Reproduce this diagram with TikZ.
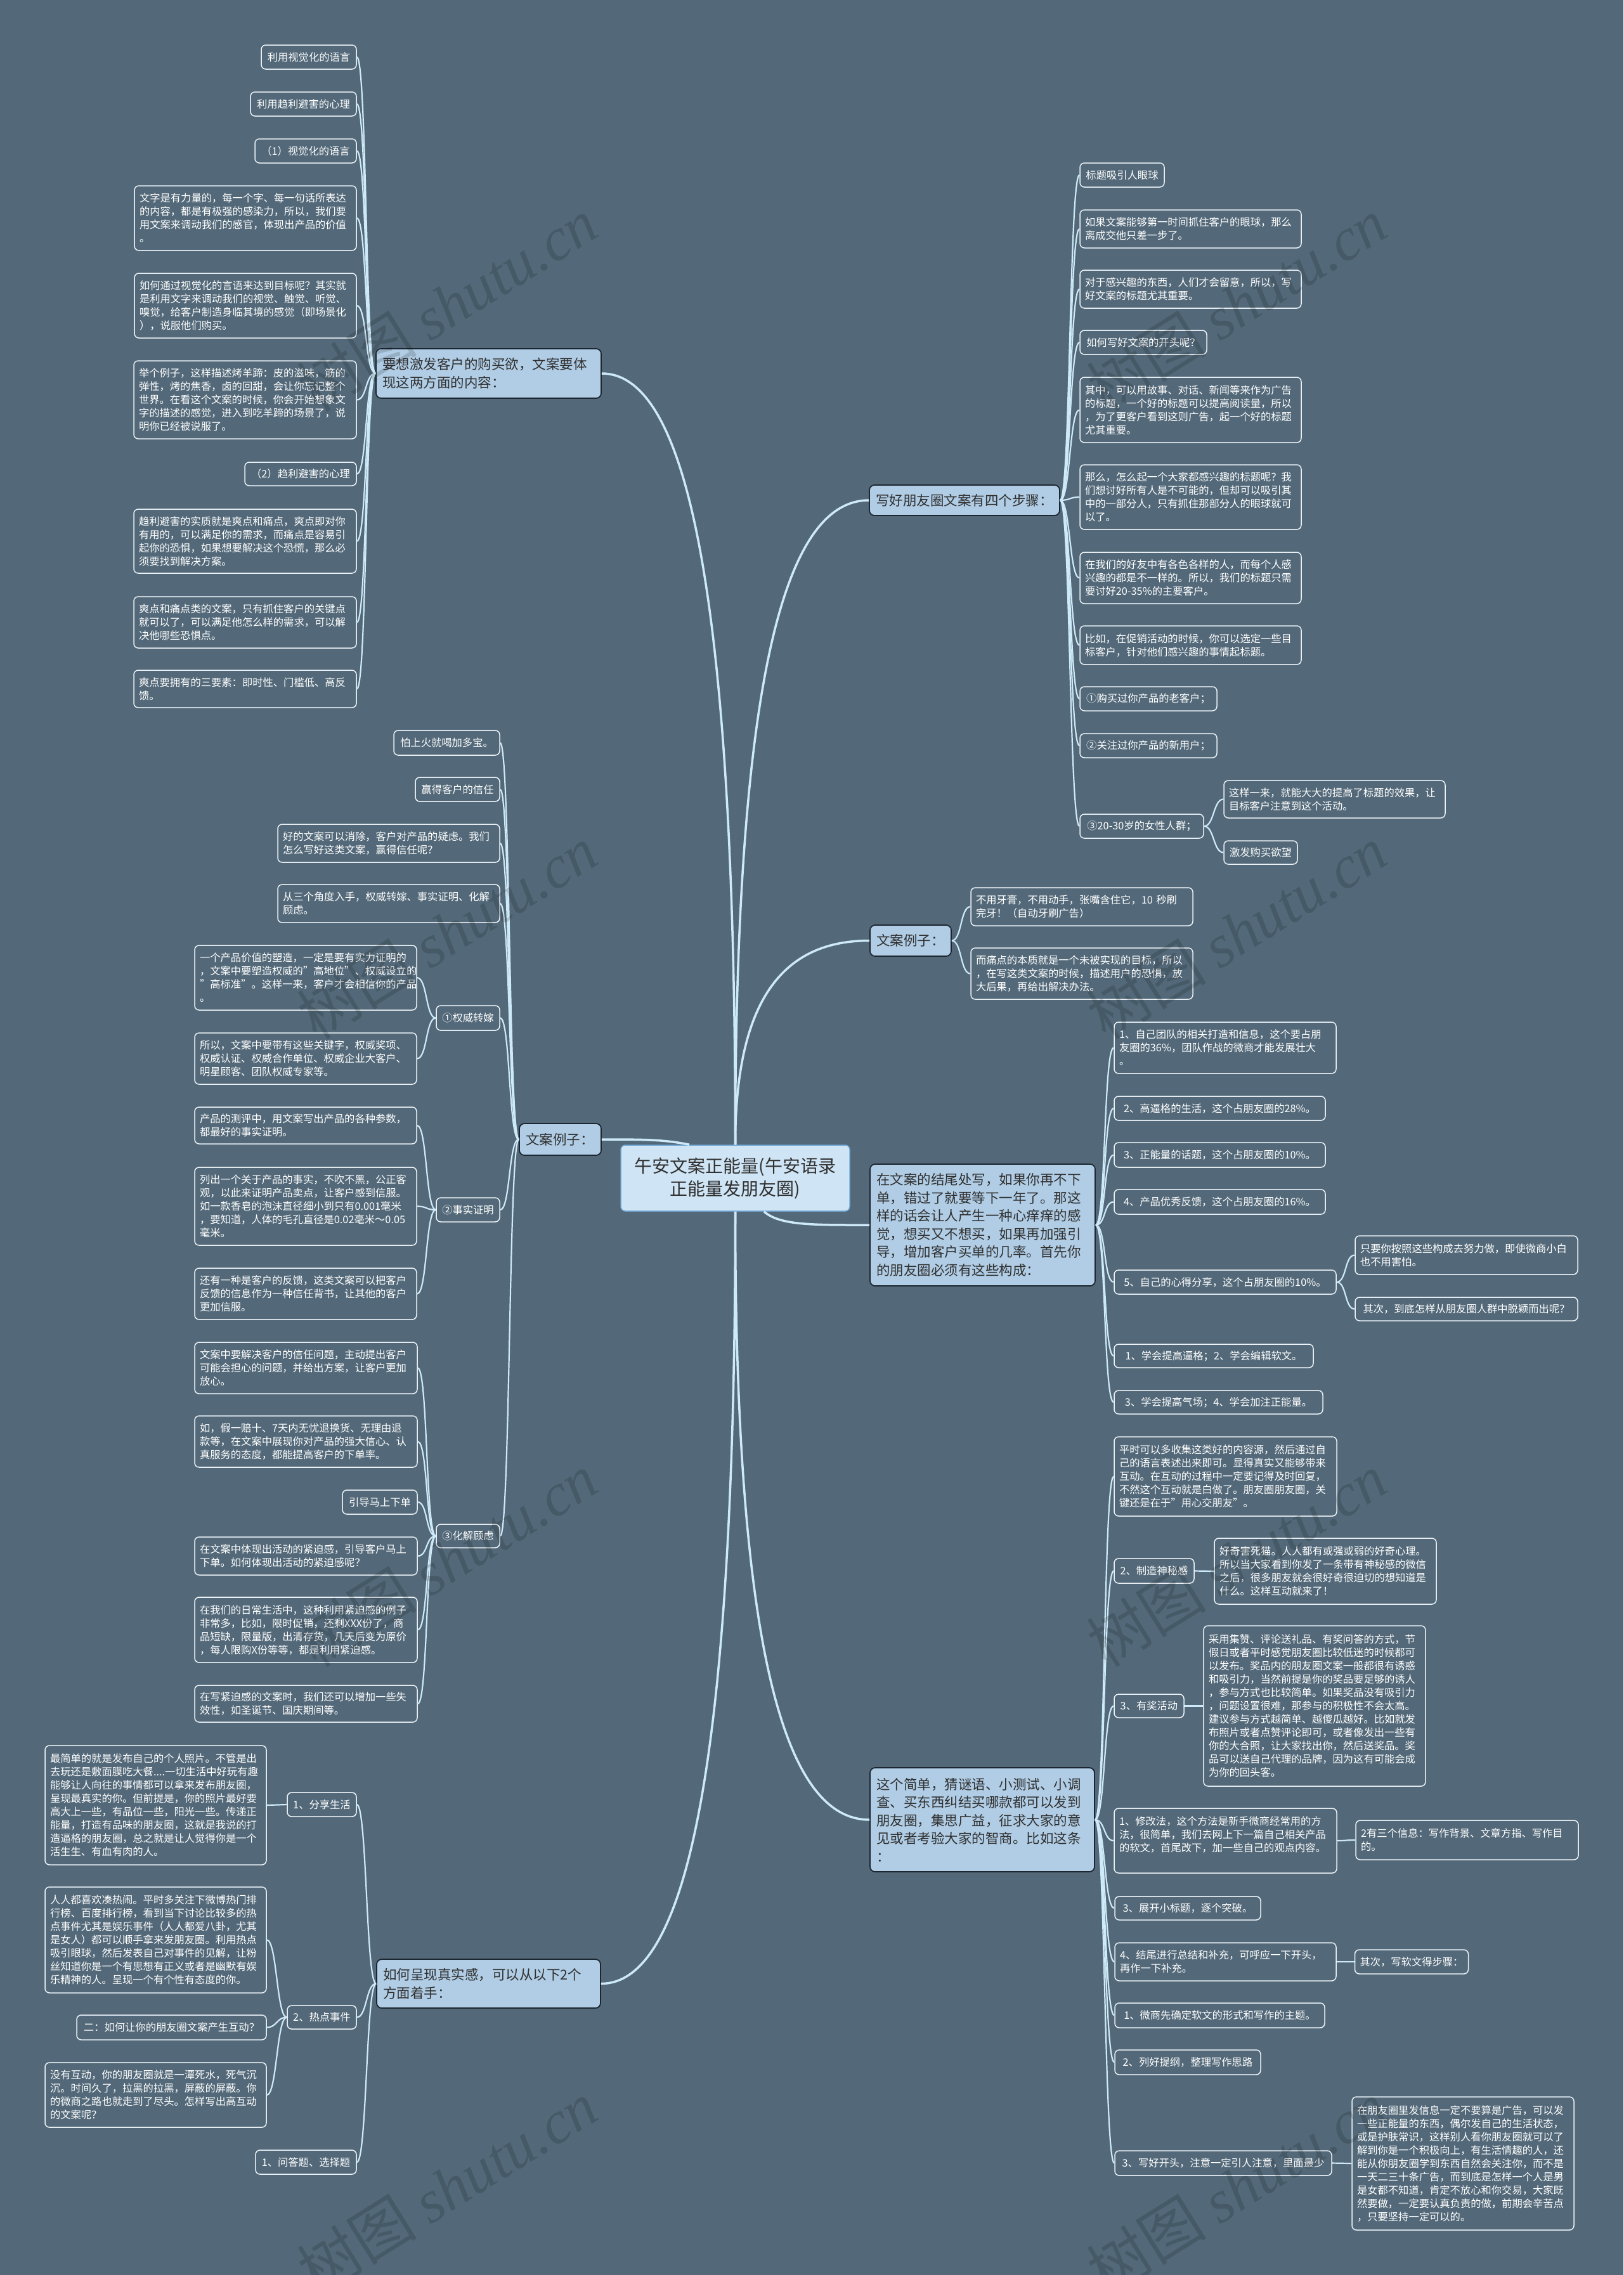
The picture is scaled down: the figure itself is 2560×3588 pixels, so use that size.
\documentclass[tikz,border=0pt]{standalone}
\usepackage{fontspec}
\setmainfont{Noto Sans CJK SC}
\newfontfamily\wmcjk{Noto Sans CJK SC}
\newfontfamily\wmlat{Liberation Serif}
\usetikzlibrary{calc}
\definecolor{bg}{RGB}{83,105,121}
\definecolor{lnk}{RGB}{206,233,247}
\definecolor{mainfill}{RGB}{176,205,229}
\definecolor{mainbd}{RGB}{28,38,48}
\definecolor{cenfill}{RGB}{207,229,245}
\definecolor{cenbd}{RGB}{112,166,212}
\definecolor{leafbd}{RGB}{236,243,248}
\definecolor{maintx}{RGB}{48,48,48}
\newcommand\nd[7]{%
 \pgfmathsetmacro\ndw{#5-#3}%
 \pgfmathsetmacro\ndh{#6-#4}%
 \pgfmathsetmacro\ndcx{(#3+#5)/2}%
 \pgfmathsetmacro\ndcy{(#4+#6)/2}%
 \pgfmathsetmacro\ndtl{#5-#3-16}%
 \pgfmathsetmacro\ndtm{#5-#3-20}%
 \node[#1, minimum width=\ndw pt, minimum height=\ndh pt] (#2) at (\ndcx,\ndcy) {#7};}
\newcommand\cl[2]{\draw[sub] (#1.west) .. controls +(-16,0) and +(16,0) .. (#2.east);}
\newcommand\cre[2]{\draw[sub] (#1.east) .. controls +(16,0) and +(-16,0) .. (#2.west);}
\tikzset{
 leafbase/.style={draw=leafbd, line width=1.5pt, fill=bg, text=white, rounded corners=7pt, inner xsep=8pt, inner ysep=3pt, font=\fontsize{16.3}{21}\selectfont},
 leaf/.style={leafbase, text width=\ndtl pt, align=left},
 leafs/.style={leafbase},
 mainn/.style={draw=mainbd, line width=1.8pt, fill=mainfill, text=maintx, rounded corners=8pt, inner xsep=10pt, inner ysep=4pt, font=\fontsize{21.5}{28.5}\selectfont, text width=\ndtm pt, align=left},
 cenn/.style={draw=cenbd, line width=1.5pt, fill=cenfill, text=maintx, rounded corners=7pt, font=\fontsize{28}{36}\selectfont, align=center},
 br/.style={draw=lnk, line width=3.5pt},
 sub/.style={draw=lnk, line width=2.2pt},
 wm/.style={rotate=32, text=black, opacity=0.15, font=\fontsize{95}{100}\selectfont}
}
\begin{document}
\begin{tikzpicture}[x=1pt,y=-1pt]
\useasboundingbox (0,0) rectangle (2560,3588);
\fill[bg] (0,0) rectangle (2560,3588);
% center
\nd{cenn}{cen}{979}{1806}{1340}{1910}{午安文案正能量(午安语录\\正能量发朋友圈)}
% ===== M1 group
\nd{mainn}{m1}{593}{550}{948}{628}{要想激发客户的购买欲，文案要体\\现这两方面的内容：}
\nd{leafs}{l1}{412}{71}{562}{109}{利用视觉化的语言}
\nd{leafs}{l2}{395}{145}{562}{183}{利用趋利避害的心理}
\nd{leafs}{l3}{402}{219}{562}{257}{（1）视觉化的语言}
\nd{leaf}{l4}{212}{293}{562}{395}{文字是有力量的，每一个字、每一句话所表达\\的内容，都是有极强的感染力，所以，我们要\\用文案来调动我们的感官，体现出产品的价值\\。}
\nd{leaf}{l5}{212}{431}{562}{533}{如何通过视觉化的言语来达到目标呢？其实就\\是利用文字来调动我们的视觉、触觉、听觉、\\嗅觉，给客户制造身临其境的感觉（即场景化\\），说服他们购买。}
\nd{leaf}{l6}{211}{569}{562}{692}{举个例子，这样描述烤羊蹄：皮的滋味，筋的\\弹性，烤的焦香，卤的回甜，会让你忘记整个\\世界。在看这个文案的时候，你会开始想象文\\字的描述的感觉，进入到吃羊蹄的场景了，说\\明你已经被说服了。}
\nd{leafs}{l7}{386}{729}{562}{766}{（2）趋利避害的心理}
\nd{leaf}{l8}{211}{803}{562}{904}{趋利避害的实质就是爽点和痛点，爽点即对你\\有用的，可以满足你的需求，而痛点是容易引\\起你的恐惧，如果想要解决这个恐慌，那么必\\须要找到解决方案。}
\nd{leaf}{l9}{211}{941}{562}{1022}{爽点和痛点类的文案，只有抓住客户的关键点\\就可以了，可以满足他怎么样的需求，可以解\\决他哪些恐惧点。}
\nd{leaf}{l10}{211}{1057}{562}{1116}{爽点要拥有的三要素：即时性、门槛低、高反\\馈。}
% ===== M2 group
\nd{mainn}{m2}{819}{1772}{948}{1822}{文案例子：}
\nd{leafs}{a1}{621}{1152}{788}{1191}{怕上火就喝加多宝。}
\nd{leafs}{a2}{655}{1226}{788}{1264}{赢得客户的信任}
\nd{leaf}{a3}{438}{1300}{788}{1360}{好的文案可以消除，客户对产品的疑虑。我们\\怎么写好这类文案，赢得信任呢？}
\nd{leaf}{a4}{438}{1395}{788}{1455}{从三个角度入手，权威转嫁、事实证明、化解\\顾虑。}
\nd{leafs}{b0}{688}{1586}{788}{1625}{①权威转嫁}
\nd{leaf}{b1}{307}{1491}{657}{1593}{一个产品价值的塑造，一定是要有实力证明的\\，文案中要塑造权威的"高地位"、权威设立的\\"高标准"。这样一来，客户才会相信你的产品\\。}
\nd{leaf}{b2}{307}{1629}{657}{1710}{所以，文案中要带有这些关键字，权威奖项、\\权威认证、权威合作单位、权威企业大客户、\\明星顾客、团队权威专家等。}
\nd{leafs}{c0}{688}{1889}{788}{1927}{②事实证明}
\nd{leaf}{c1}{307}{1746}{657}{1804}{产品的测评中，用文案写出产品的各种参数，\\都最好的事实证明。}
\nd{leaf}{c2}{307}{1841}{657}{1964}{列出一个关于产品的事实，不吹不黑，公正客\\观，以此来证明产品卖点，让客户感到信服。\\如一款香皂的泡沫直径细小到只有0.001毫米\\，要知道，人体的毛孔直径是0.02毫米～0.05\\毫米。}
\nd{leaf}{c3}{307}{2000}{657}{2081}{还有一种是客户的反馈，这类文案可以把客户\\反馈的信息作为一种信任背书，让其他的客户\\更加信服。}
\nd{leafs}{d0}{688}{2404}{788}{2441}{③化解顾虑}
\nd{leaf}{d1}{307}{2117}{658}{2198}{文案中要解决客户的信任问题，主动提出客户\\可能会担心的问题，并给出方案，让客户更加\\放心。}
\nd{leaf}{d2}{307}{2233}{658}{2314}{如，假一赔十、7天内无忧退换货、无理由退\\款等，在文案中展现你对产品的强大信心、认\\真服务的态度，都能提高客户的下单率。}
\nd{leafs}{d3}{540}{2350}{658}{2388}{引导马上下单}
\nd{leaf}{d4}{307}{2424}{658}{2484}{在文案中体现出活动的紧迫感，引导客户马上\\下单。如何体现出活动的紧迫感呢？}
\nd{leaf}{d5}{307}{2519}{658}{2622}{在我们的日常生活中，这种利用紧迫感的例子\\非常多，比如，限时促销，还剩XXX份了，商\\品短缺，限量版，出清存货，几天后变为原价\\，每人限购X份等等，都是利用紧迫感。}
\nd{leaf}{d6}{307}{2658}{658}{2716}{在写紧迫感的文案时，我们还可以增加一些失\\效性，如圣诞节、国庆期间等。}
% ===== M3 group
\nd{mainn}{m3}{594}{3090}{947}{3167}{如何呈现真实感，可以从以下2个\\方面着手：}
\nd{leaf}{e1a}{71}{2753}{420}{2941}{最简单的就是发布自己的个人照片。不管是出\\去玩还是敷面膜吃大餐....一切生活中好玩有趣\\能够让人向往的事情都可以拿来发布朋友圈，\\呈现最真实的你。但前提是，你的照片最好要\\高大上一些，有品位一些，阳光一些。传递正\\能量，打造有品味的朋友圈，这就是我说的打\\造逼格的朋友圈，总之就是让人觉得你是一个\\活生生、有血有肉的人。}
\nd{leafs}{e1}{453}{2827}{562}{2865}{1、分享生活}
\nd{leaf}{e2a}{71}{2976}{420}{3143}{人人都喜欢凑热闹。平时多关注下微博热门排\\行榜、百度排行榜，看到当下讨论比较多的热\\点事件尤其是娱乐事件（人人都爱八卦，尤其\\是女人）都可以顺手拿来发朋友圈。利用热点\\吸引眼球，然后发表自己对事件的见解，让粉\\丝知道你是一个有思想有正义或者是幽默有娱\\乐精神的人。呈现一个有个性有态度的你。}
\nd{leafs}{e2}{453}{3163}{562}{3200}{2、热点事件}
\nd{leafs}{e2b}{121}{3178}{420}{3217}{二：如何让你的朋友圈文案产生互动？}
\nd{leaf}{e2c}{71}{3253}{420}{3355}{没有互动，你的朋友圈就是一潭死水，死气沉\\沉。时间久了，拉黑的拉黑，屏蔽的屏蔽。你\\的微商之路也就走到了尽头。怎样写出高互动\\的文案呢？}
\nd{leafs}{e3}{403}{3391}{562}{3429}{1、问答题、选择题}
% ===== M4 group
\nd{mainn}{m4}{1371}{765}{1671}{813}{写好朋友圈文案有四个步骤：}
\nd{leafs}{f1}{1703}{257}{1836}{295}{标题吸引人眼球}
\nd{leaf}{f2}{1703}{331}{2052}{391}{如果文案能够第一时间抓住客户的眼球，那么\\离成交他只差一步了。}
\nd{leaf}{f3}{1703}{426}{2052}{486}{对于感兴趣的东西，人们才会留意，所以，写\\好文案的标题尤其重要。}
\nd{leafs}{f4}{1703}{521}{1903}{559}{如何写好文案的开头呢？}
\nd{leaf}{f5}{1703}{595}{2052}{698}{其中，可以用故事、对话、新闻等来作为广告\\的标题，一个好的标题可以提高阅读量，所以\\，为了更客户看到这则广告，起一个好的标题\\尤其重要。}
\nd{leaf}{f6}{1703}{733}{2052}{835}{那么，怎么起一个大家都感兴趣的标题呢？我\\们想讨好所有人是不可能的，但却可以吸引其\\中的一部分人，只有抓住那部分人的眼球就可\\以了。}
\nd{leaf}{f7}{1703}{871}{2052}{952}{在我们的好友中有各色各样的人，而每个人感\\兴趣的都是不一样的。所以，我们的标题只需\\要讨好20-35\%的主要客户。}
\nd{leaf}{f8}{1703}{987}{2052}{1048}{比如，在促销活动的时候，你可以选定一些目\\标客户，针对他们感兴趣的事情起标题。}
\nd{leafs}{f9}{1703}{1083}{1919}{1121}{①购买过你产品的老客户；}
\nd{leafs}{f10}{1703}{1157}{1919}{1195}{②关注过你产品的新用户；}
\nd{leafs}{f11}{1703}{1284}{1898}{1322}{③20-30岁的女性人群；}
\nd{leaf}{f11a}{1930}{1231}{2279}{1290}{这样一来，就能大大的提高了标题的效果，让\\目标客户注意到这个活动。}
\nd{leafs}{f11b}{1930}{1326}{2046}{1363}{激发购买欲望}
% ===== M5 group
\nd{mainn}{m5}{1372}{1459}{1500}{1508}{文案例子：}
\nd{leaf}{g1}{1531}{1400}{1881}{1460}{不用牙膏，不用动手，张嘴含住它，10 秒刷\\完牙！（自动牙刷广告）}
\nd{leaf}{g2}{1531}{1495}{1881}{1576}{而痛点的本质就是一个未被实现的目标，所以\\，在写这类文案的时候，描述用户的恐惧，放\\大后果，再给出解决办法。}
% ===== M6 group
\nd{mainn}{m6}{1372}{1836}{1727}{2028}{在文案的结尾处写，如果你再不下\\单，错过了就要等下一年了。那这\\样的话会让人产生一种心痒痒的感\\觉，想买又不想买，如果再加强引\\导，增加客户买单的几率。首先你\\的朋友圈必须有这些构成：}
\nd{leaf}{h1}{1757}{1612}{2107}{1693}{1、自己团队的相关打造和信息，这个要占朋\\友圈的36\%，团队作战的微商才能发展壮大\\。}
\nd{leafs}{h2}{1757}{1729}{2090}{1767}{2、高逼格的生活，这个占朋友圈的28\%。}
\nd{leafs}{h3}{1757}{1802}{2090}{1841}{3、正能量的话题，这个占朋友圈的10\%。}
\nd{leafs}{h4}{1757}{1876}{2090}{1915}{4、产品优秀反馈，这个占朋友圈的16\%。}
\nd{leafs}{h5}{1757}{2003}{2107}{2041}{5、自己的心得分享，这个占朋友圈的10\%。}
\nd{leaf}{h5a}{2137}{1949}{2488}{2010}{只要你按照这些构成去努力做，即使微商小白\\也不用害怕。}
\nd{leafs}{h5b}{2137}{2046}{2488}{2083}{其次，到底怎样从朋友圈人群中脱颖而出呢？}
\nd{leafs}{h6}{1757}{2120}{2071}{2157}{1、学会提高逼格；2、学会编辑软文。}
\nd{leafs}{h7}{1757}{2193}{2086}{2230}{3、学会提高气场；4、学会加注正能量。}
% ===== M7 group
\nd{mainn}{m7}{1372}{2788}{1726}{2952}{这个简单，猜谜语、小测试、小调\\查、买东西纠结买哪款都可以发到\\朋友圈，集思广益，征求大家的意\\见或者考验大家的智商。比如这条\\：}
\nd{leaf}{k1}{1757}{2266}{2108}{2391}{平时可以多收集这类好的内容源，然后通过自\\己的语言表述出来即可。显得真实又能够带来\\互动。在互动的过程中一定要记得及时回复，\\不然这个互动就是白做了。朋友圈朋友圈，关\\键还是在于"用心交朋友"。}
\nd{leafs}{k2}{1757}{2458}{1883}{2497}{2、制造神秘感}
\nd{leaf}{k2a}{1915}{2426}{2265}{2530}{好奇害死猫。人人都有或强或弱的好奇心理。\\所以当大家看到你发了一条带有神秘感的微信\\之后，很多朋友就会很好奇很迫切的想知道是\\什么。这样互动就来了！}
\nd{leafs}{k3}{1757}{2672}{1867}{2709}{3、有奖活动}
\nd{leaf}{k3a}{1898}{2564}{2248}{2817}{采用集赞、评论送礼品、有奖问答的方式，节\\假日或者平时感觉朋友圈比较低迷的时候都可\\以发布。奖品内的朋友圈文案一般都很有诱惑\\和吸引力，当然前提是你的奖品要足够的诱人\\，参与方式也比较简单。如果奖品没有吸引力\\，问题设置很难，那参与的积极性不会太高。\\建议参与方式越简单、越傻瓜越好。比如就发\\布照片或者点赞评论即可，或者像发出一些有\\你的大合照，让大家找出你，然后送奖品。奖\\品可以送自己代理的品牌，因为这有可能会成\\为你的回头客。}
\nd{leaf}{k4}{1757}{2852}{2108}{2954}{1、修改法，这个方法是新手微商经常用的方\\法，很简单，我们去网上下一篇自己相关产品\\的软文，首尾改下，加一些自己的观点内容。\\\mbox{}}
\nd{leaf}{k4a}{2138}{2871}{2489}{2933}{2有三个信息：写作背景、文章方指、写作目\\的。}
\nd{leafs}{k5}{1758}{2991}{1988}{3028}{3、展开小标题，逐个突破。}
\nd{leaf}{k6}{1758}{3064}{2107}{3124}{4、结尾进行总结和补充，可呼应一下开头，\\再作一下补充。}
\nd{leafs}{k6a}{2138}{3075}{2314}{3113}{其次，写软文得步骤：}
\nd{leafs}{k7}{1758}{3159}{2089}{3198}{1、微商先确定软文的形式和写作的主题。}
\nd{leafs}{k8}{1758}{3233}{1988}{3272}{2、列好提纲，整理写作思路}
\nd{leafs}{k9}{1758}{3392}{2100}{3431}{3、写好开头，注意一定引人注意，里面最少}
\nd{leaf}{k9a}{2132}{3307}{2482}{3517}{在朋友圈里发信息一定不要算是广告，可以发\\一些正能量的东西，偶尔发自己的生活状态，\\或是护肤常识，这样别人看你朋友圈就可以了\\解到你是一个积极向上，有生活情趣的人，还\\能从你朋友圈学到东西自然会关注你，而不是\\一天二三十条广告，而到底是怎样一个人是男\\是女都不知道，肯定不放心和你交易，大家既\\然要做，一定要认真负责的做，前期会辛苦点\\，只要坚持一定可以的。}
% ===== main branches
\coordinate (cj) at ($(cen.north west)!0.3!(cen.north east)$);
\coordinate (cs) at ($(cen.south)!0.25!(cen.south east)$);
\draw[br] (cen.north) .. controls ($(cen.north)!0.75!(cen.north |- m1.east)$) and ($(m1.east)!0.6!(cen.north |- m1.east)$) .. (m1.east);
\draw[br] (m2.east) .. controls +(70,0) and +(-40,-8) .. (cj);
\draw[br] (cen.south) .. controls ($(cen.south)!0.75!(cen.south |- m3.east)$) and ($(m3.east)!0.6!(cen.south |- m3.east)$) .. (m3.east);
\draw[br] (cen.north) .. controls ($(cen.north)!0.75!(cen.north |- m4.west)$) and ($(m4.west)!0.6!(cen.north |- m4.west)$) .. (m4.west);
\draw[br] (cen.north) .. controls ($(cen.north)!0.75!(cen.north |- m5.west)$) and ($(m5.west)!0.6!(cen.north |- m5.west)$) .. (m5.west);
\draw[br] (cs) .. controls +(25,22) and +(-90,0) .. (m6.west);
\draw[br] (cen.south) .. controls ($(cen.south)!0.75!(cen.south |- m7.west)$) and ($(m7.west)!0.6!(cen.south |- m7.west)$) .. (m7.west);
% ===== sub branches
\foreach \t in {l1,l2,l3,l4,l5,l6,l7,l8,l9,l10} {\cl{m1}{\t}}
\foreach \t in {a1,a2,a3,a4,b0,c0,d0} {\cl{m2}{\t}}
\foreach \t in {b1,b2} {\cl{b0}{\t}}
\foreach \t in {c1,c2,c3} {\cl{c0}{\t}}
\foreach \t in {d1,d2,d3,d4,d5,d6} {\cl{d0}{\t}}
\foreach \t in {e1,e2,e3} {\cl{m3}{\t}}
\cl{e1}{e1a}
\foreach \t in {e2a,e2b,e2c} {\cl{e2}{\t}}
\foreach \t in {f1,f2,f3,f4,f5,f6,f7,f8,f9,f10,f11} {\cre{m4}{\t}}
\foreach \t in {f11a,f11b} {\cre{f11}{\t}}
\foreach \t in {g1,g2} {\cre{m5}{\t}}
\foreach \t in {h1,h2,h3,h4,h5,h6,h7} {\cre{m6}{\t}}
\foreach \t in {h5a,h5b} {\cre{h5}{\t}}
\foreach \t in {k1,k2,k3,k4,k5,k6,k7,k8,k9} {\cre{m7}{\t}}
\cre{k2}{k2a}
\cre{k3}{k3a}
\cre{k4}{k4a}
\cre{k6}{k6a}
\cre{k9}{k9a}
% ===== watermarks
\foreach \wx/\wy in {705/480,1950/480,705/1470,1950/1470,705/2460,1950/2460,705/3450,1950/3450}
  {\node[wm] (wm) at (\wx,\wy) {\wmcjk 树图\ \wmlat\itshape shutu.cn};}
\end{tikzpicture}
\end{document}
